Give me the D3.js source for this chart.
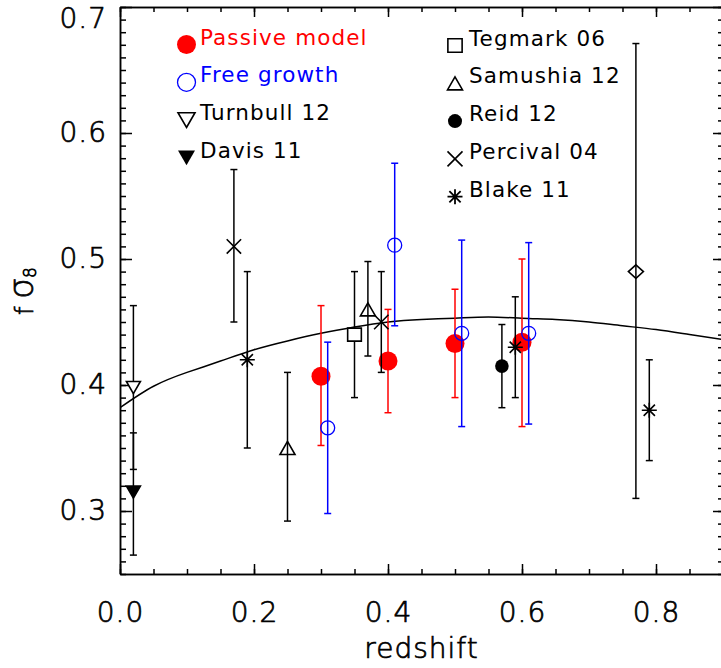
<!DOCTYPE html>
<html>
<head>
<meta charset="utf-8">
<script src="https://cdn.jsdelivr.net/npm/d3@7"></script>
<style>
  body { margin: 0; background: #fff; }
  svg { display: block; }
  text { font-family: "DejaVu Sans", sans-serif; }
</style>
</head>
<body>
<svg id="chart" width="721" height="668"></svg>
<script>
// each row: [redshift, f sigma8, lower end of error bar, upper end]
var passiveModel = [[0.30, 0.407, 0.352, 0.463], [0.40, 0.419, 0.378, 0.460], [0.50, 0.433, 0.390, 0.476], [0.60, 0.434, 0.367, 0.500]];
var freeGrowth   = [[0.31, 0.366, 0.298, 0.434], [0.41, 0.511, 0.447, 0.576], [0.51, 0.441, 0.367, 0.515], [0.61, 0.441, 0.369, 0.513]];
var turnbull12   = [[0.02, 0.398, 0.333, 0.463]];
var davis11      = [[0.02, 0.315, 0.265, 0.362]];
var tegmark06    = [[0.35, 0.440, 0.390, 0.490]];
var samushia12   = [[0.25, 0.350, 0.292, 0.410], [0.37, 0.460, 0.423, 0.498]];
var reid12       = [[0.57, 0.415, 0.382, 0.448]];
var percival04   = [[0.17, 0.510, 0.450, 0.571], [0.39, 0.450, 0.410, 0.490]];
var blake11      = [[0.19, 0.420, 0.350, 0.490], [0.59, 0.430, 0.390, 0.470], [0.79, 0.380, 0.340, 0.420]];
var otherPoint   = [[0.77, 0.490, 0.310, 0.671]];

// model curve
var modelZ = [0, 0.05, 0.10, 0.15, 0.20, 0.25, 0.30, 0.35, 0.40, 0.45, 0.50, 0.55, 0.60, 0.65, 0.70, 0.75, 0.80, 0.85, 0.90];
var modelF = [0.382, 0.399, 0.410, 0.419, 0.428, 0.435, 0.441, 0.446, 0.450, 0.452, 0.453, 0.454, 0.453, 0.452, 0.450, 0.447, 0.444, 0.440, 0.436];

var xTicks = [0, 0.2, 0.4, 0.6, 0.8];
var yTicks = [0.3, 0.4, 0.5, 0.6, 0.7];
var legendLeft  = ["Passive model", "Free growth", "Turnbull 12", "Davis 11"];
var legendRight = ["Tegmark 06", "Samushia 12", "Reid 12", "Percival 04", "Blake 11"];

var svg = d3.select("#chart");
var x = d3.scaleLinear().domain([0, 0.9]).range([120, 723]);
var y = d3.scaleLinear().domain([0.25, 0.7]).range([574, 7]);

// marker shapes, size = half extent
function poly(pts) {
  return { draw: function(c, s) {
    c.moveTo(pts[0][0] * s, pts[0][1] * s);
    for (var i = 1; i < pts.length; i++) c.lineTo(pts[i][0] * s, pts[i][1] * s);
    c.closePath();
  }};
}
var triUp   = poly([[0, -0.87], [1, 0.87], [-1, 0.87]]);
var triDown = poly([[0, 0.87], [1, -0.87], [-1, -0.87]]);
var square  = poly([[-0.95, -0.9], [0.95, -0.9], [0.95, 0.9], [-0.95, 0.9]]);
var diamond = poly([[0, -0.9], [1, 0], [0, 0.9], [-1, 0]]);
var cross = { draw: function(c, s) {
  c.moveTo(-s, -s); c.lineTo(s, s); c.moveTo(-s, s); c.lineTo(s, -s);
}};
var aster = { draw: function(c, s) {
  var d = s * 0.75;
  c.moveTo(0, -s); c.lineTo(0, s);
  c.moveTo(-s, 0); c.lineTo(s, 0);
  c.moveTo(-d, -d); c.lineTo(d, d);
  c.moveTo(-d, d); c.lineTo(d, -d);
}};

// thin monoline look for the axis lettering
function thin(sel) {
  sel.attr("font-weight", 200).attr("stroke", "#000").attr("stroke-width", 0.7).attr("fill", "#000");
}

// axes
function style(g) {
  g.selectAll("line,path").attr("stroke", "#000").attr("stroke-width", 1.5);
  g.selectAll("text").attr("font-size", 28).attr("letter-spacing", 1).attr("font-family", "DejaVu Sans").call(thin);
}
var xMinor = d3.range(0, 0.901, 0.05), yMinor = d3.range(0.25, 0.7001, 0.01);
var plotB = y(0.25), plotT = y(0.7), plotL = x(0), plotR = x(0.9);

svg.append("g").attr("transform", "translate(0," + plotB + ")")
  .call(d3.axisBottom(x).tickValues(xMinor).tickSize(-5).tickSizeOuter(0).tickFormat("")).call(style);
svg.append("g").attr("transform", "translate(0," + plotB + ")")
  .call(d3.axisBottom(x).tickValues(xTicks).tickSize(-10).tickSizeOuter(0).tickPadding(28).tickFormat(d3.format(".1f"))).call(style);
svg.append("g").attr("transform", "translate(0," + plotT + ")")
  .call(d3.axisTop(x).tickValues(xMinor).tickSize(-5).tickSizeOuter(0).tickFormat("")).call(style);
svg.append("g").attr("transform", "translate(0," + plotT + ")")
  .call(d3.axisTop(x).tickValues(xTicks).tickSize(-10).tickSizeOuter(0).tickFormat("")).call(style);
svg.append("g").attr("transform", "translate(" + plotL + ",0)")
  .call(d3.axisLeft(y).tickValues(yMinor).tickSize(-6).tickSizeOuter(0).tickFormat("")).call(style);
var yAx = svg.append("g").attr("transform", "translate(" + plotL + ",0)")
  .call(d3.axisLeft(y).tickValues(yTicks).tickSize(-12).tickSizeOuter(0).tickPadding(13).tickFormat(d3.format(".1f"))).call(style);
yAx.selectAll("text").filter(function(d) { return y(d) < 14; }).attr("dy", "0.72em");
svg.append("g").attr("transform", "translate(" + plotR + ",0)")
  .call(d3.axisRight(y).tickValues(yMinor).tickSize(-5).tickSizeOuter(0).tickFormat("")).call(style);
svg.append("g").attr("transform", "translate(" + plotR + ",0)")
  .call(d3.axisRight(y).tickValues(yTicks).tickSize(-10).tickSizeOuter(0).tickFormat("")).call(style);

// axis titles
svg.append("text").attr("x", (plotL + plotR) / 2).attr("y", 658).attr("text-anchor", "middle")
  .attr("font-size", 28).attr("letter-spacing", 1).text("redshift").call(thin);
var yt = svg.append("text").attr("transform", "translate(33,291) rotate(-90)").attr("text-anchor", "middle").call(thin);
yt.append("tspan").attr("font-size", 24).text("f ");
yt.append("tspan").attr("font-size", 33).text("σ");
yt.append("tspan").attr("font-size", 17).attr("dy", 3).text("8");

// model curve
svg.append("clipPath").attr("id", "clip").append("rect")
  .attr("x", plotL).attr("y", plotT).attr("width", plotR - plotL).attr("height", plotB - plotT);
svg.append("path").attr("clip-path", "url(#clip)")
  .attr("d", d3.line().curve(d3.curveNatural).x(function(d, i) { return x(modelZ[i]); }).y(function(d) { return y(d); })(modelF))
  .attr("fill", "none").attr("stroke", "#000").attr("stroke-width", 1.5);

var plot = svg.append("g").attr("clip-path", "url(#clip)");

function errorBars(data, color) {
  var g = plot.append("g").attr("stroke", color).attr("stroke-width", 1.5);
  g.selectAll("line.v").data(data).enter().append("line")
    .attr("x1", function(d) { return x(d[0]); }).attr("x2", function(d) { return x(d[0]); })
    .attr("y1", function(d) { return y(d[2]); }).attr("y2", function(d) { return y(d[3]); });
  [2, 3].forEach(function(k) {
    g.selectAll("line.c" + k).data(data).enter().append("line")
      .attr("x1", function(d) { return x(d[0]) - 3.5; }).attr("x2", function(d) { return x(d[0]) + 3.5; })
      .attr("y1", function(d) { return y(d[k]); }).attr("y2", function(d) { return y(d[k]); });
  });
}

function markers(data, type, size, fill, stroke) {
  plot.append("g").selectAll("path").data(data).enter().append("path")
    .attr("transform", function(d) { return "translate(" + x(d[0]) + "," + y(d[1]) + ")"; })
    .attr("d", d3.symbol().type(type).size(size))
    .attr("fill", fill).attr("stroke", stroke).attr("stroke-width", 1.6);
}

function dots(data, r, fill, stroke) {
  plot.append("g").selectAll("circle").data(data).enter().append("circle")
    .attr("cx", function(d) { return x(d[0]); }).attr("cy", function(d) { return y(d[1]); })
    .attr("r", r).attr("fill", fill).attr("stroke", stroke).attr("stroke-width", 1.3);
}

errorBars(passiveModel, "#ff0000");
dots(passiveModel, 9.5, "#ff0000", "none");
errorBars(freeGrowth, "#0000ff");
dots(freeGrowth, 7, "none", "#0000ff");

[turnbull12, davis11, tegmark06, samushia12, reid12, percival04, blake11, otherPoint].forEach(function(s) { errorBars(s, "#000"); });
markers(turnbull12, triDown, 7, "#fff", "#000");
markers(davis11, triDown, 7, "#000", "#000");
markers(tegmark06, square, 7.2, "#fff", "#000");
markers(samushia12, triUp, 7.5, "none", "#000");
dots(reid12, 6.8, "#000", "none");
markers(percival04, cross, 7.2, "none", "#000");
markers(blake11, aster, 7.5, "none", "#000");
markers(otherPoint, diamond, 7.5, "none", "#000");

// legend
var rowGap = 37.8, row0 = 44.5;
var leg = svg.append("g").attr("font-size", 21.5).attr("letter-spacing", 1.1);
var leftSym = [
  function(g) { g.append("circle").attr("r", 9.5).attr("fill", "#ff0000"); },
  function(g) { g.append("circle").attr("r", 9).attr("fill", "none").attr("stroke", "#0000ff").attr("stroke-width", 1.3); },
  function(g) { g.append("path").attr("d", d3.symbol().type(triDown).size(8.5)).attr("fill", "none").attr("stroke", "#000").attr("stroke-width", 1.6); },
  function(g) { g.append("path").attr("d", d3.symbol().type(triDown).size(8.5)).attr("fill", "#000"); }
];
var leftColor = ["#ff0000", "#0000ff", "#000", "#000"];
legendLeft.forEach(function(label, i) {
  var yy = row0 + i * rowGap;
  leftSym[i](leg.append("g").attr("transform", "translate(186.5," + yy + ")"));
  leg.append("text").attr("x", 200).attr("y", yy).attr("fill", leftColor[i]).text(label);
});
var rightSym = [
  function(g) { g.append("path").attr("d", d3.symbol().type(square).size(7.5)).attr("fill", "none").attr("stroke", "#000").attr("stroke-width", 1.6); },
  function(g) { g.append("path").attr("d", d3.symbol().type(triUp).size(7.5)).attr("fill", "none").attr("stroke", "#000").attr("stroke-width", 1.6); },
  function(g) { g.append("circle").attr("r", 7).attr("fill", "#000"); },
  function(g) { g.append("path").attr("d", d3.symbol().type(cross).size(7.5)).attr("fill", "none").attr("stroke", "#000").attr("stroke-width", 1.6); },
  function(g) { g.append("path").attr("d", d3.symbol().type(aster).size(7.5)).attr("fill", "none").attr("stroke", "#000").attr("stroke-width", 1.8); }
];
legendRight.forEach(function(label, i) {
  var yy = row0 + 1 + i * rowGap;
  rightSym[i](leg.append("g").attr("transform", "translate(455," + yy + ")"));
  leg.append("text").attr("x", 469).attr("y", yy).attr("fill", "#000").text(label);
});
</script>
</body>
</html>
